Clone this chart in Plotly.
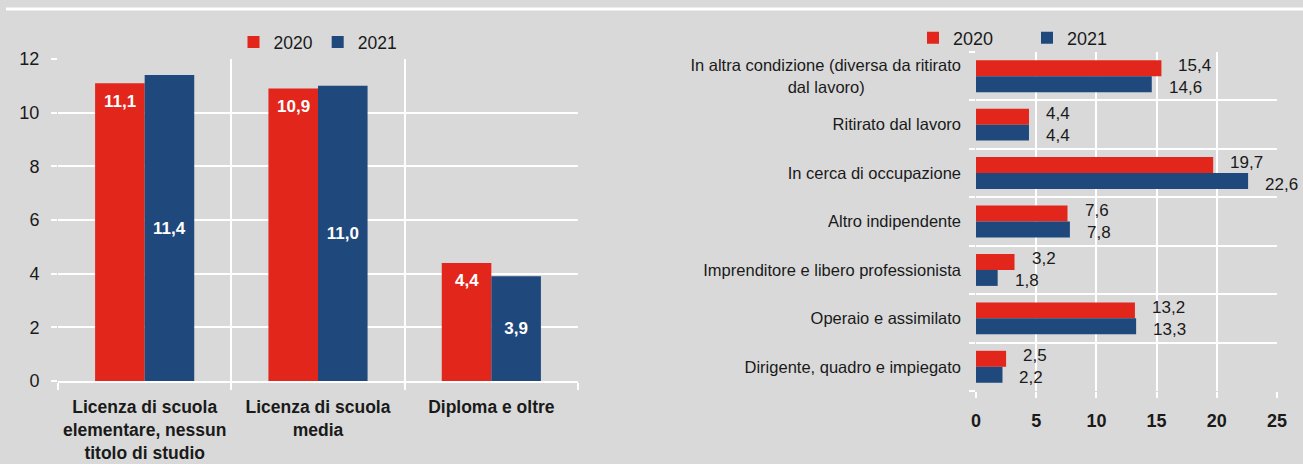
import plotly.graph_objects as go

# ---- data ----
edu_categories = [
    "Licenza di scuola<br>elementare, nessun<br>titolo di studio",
    "Licenza di scuola<br>media",
    "Diploma e oltre",
]
edu_2020 = [11.1, 10.9, 4.4]
edu_2021 = [11.4, 11.0, 3.9]

job_categories = [
    "Dirigente, quadro e impiegato",
    "Operaio e assimilato",
    "Imprenditore e libero professionista",
    "Altro indipendente",
    "In cerca di occupazione",
    "Ritirato dal lavoro",
    "In altra condizione (diversa da ritirato<br>dal lavoro)" + "\u00a0" * 21,
]
job_2020 = [2.5, 13.2, 3.2, 7.6, 19.7, 4.4, 15.4]
job_2021 = [2.2, 13.3, 1.8, 7.8, 22.6, 4.4, 14.6]

years = ["2020", "2021"]

RED = "#e2261b"
BLUE = "#1f497d"
BG = "#d9d9d9"
TXT = "#1a1a1a"
FONT = "Liberation Sans, Arial, sans-serif"


def fmt(v):
    return f"{v:.1f}".replace(".", ",")


W, H = 1303, 464

fig = go.Figure()

# ---- left chart ----
bw_left = 0.286
fig.add_trace(go.Bar(
    x=edu_categories, y=edu_2020, name=years[0], marker_color=RED,
    marker_line_width=0, width=bw_left, offset=-bw_left,
    xaxis="x", yaxis="y", legend="legend",
))
fig.add_trace(go.Bar(
    x=edu_categories, y=edu_2021, name=years[1], marker_color=BLUE,
    marker_line_width=0, width=bw_left, offset=0,
    text=[fmt(v) for v in edu_2021], textposition="inside",
    insidetextanchor="middle", textangle=0, constraintext="none",
    textfont=dict(family=FONT, size=17, color="white", weight="bold"),
    xaxis="x", yaxis="y", legend="legend", cliponaxis=False,
))

annotations = []
for i, v in enumerate(edu_2020):
    annotations.append(dict(
        x=i - bw_left / 2, y=v, xref="x", yref="y",
        text=fmt(v), showarrow=False, yanchor="middle", xanchor="center",
        yshift=-18,
        font=dict(family=FONT, size=17, color="white", weight="bold"),
    ))

# ---- right chart ----
bw_right = 0.33
fig.add_trace(go.Bar(
    y=job_categories, x=job_2020, name=years[0], orientation="h",
    marker_color=RED, marker_line_width=0, width=bw_right, offset=0,
    xaxis="x2", yaxis="y2", legend="legend2",
))
fig.add_trace(go.Bar(
    y=job_categories, x=job_2021, name=years[1], orientation="h",
    marker_color=BLUE, marker_line_width=0, width=bw_right, offset=-bw_right,
    xaxis="x2", yaxis="y2", legend="legend2",
))

for i, (a, b) in enumerate(zip(job_2020, job_2021)):
    annotations.append(dict(
        x=a, y=i + bw_right / 2, xref="x2", yref="y2",
        text=fmt(a), showarrow=False, xanchor="left", yanchor="middle",
        xshift=15, yshift=3,
        font=dict(family=FONT, size=17, color=TXT),
    ))
    annotations.append(dict(
        x=b, y=i - bw_right / 2, xref="x2", yref="y2",
        text=fmt(b), showarrow=False, xanchor="left", yanchor="middle",
        xshift=15, yshift=-3,
        font=dict(family=FONT, size=17, color=TXT),
    ))

fig.update_layout(
    width=W, height=H, autosize=False,
    paper_bgcolor=BG, plot_bgcolor=BG,
    margin=dict(l=0, r=0, t=0, b=0, pad=0, autoexpand=False),
    barmode="overlay",
    font=dict(family=FONT, size=17, color=TXT),
    xaxis=dict(
        domain=[58 / W, 578 / W], type="category", tickson="boundaries",
        showgrid=True, gridcolor="white", gridwidth=2,
        ticks="outside", ticklen=7, tickcolor="white", tickwidth=2,
        showline=True, linecolor="white", linewidth=2,
        tickangle=0, automargin=False,
        tickfont=dict(family=FONT, size=17.5, color=TXT, weight="bold"),
        ticklabelstandoff=9, fixedrange=True,
    ),
    yaxis=dict(
        domain=[1 - 381 / H, 1 - 59 / H], range=[0, 12], dtick=2,
        showgrid=True, gridcolor="white", gridwidth=2, zeroline=False,
        ticks="outside", ticklen=6, tickcolor="white", tickwidth=2,
        automargin=False,
        tickfont=dict(family=FONT, size=18, color=TXT),
        ticklabelstandoff=8, fixedrange=True,
    ),
    xaxis2=dict(
        domain=[976 / W, 1277 / W], range=[0, 25], dtick=5,
        showgrid=True, gridcolor="white", gridwidth=2, zeroline=False,
        ticks="outside", ticklen=6, tickcolor="white", tickwidth=2,
        automargin=False,
        tickfont=dict(family=FONT, size=18, color=TXT, weight="bold"),
        ticklabelstandoff=7, anchor="y2", fixedrange=True,
    ),
    yaxis2=dict(
        domain=[1 - 391 / H, 1 - 52 / H], type="category", tickson="boundaries",
        showgrid=True, gridcolor="white", gridwidth=2,
        ticks="outside", ticklen=6, tickcolor="white", tickwidth=2,
        automargin=False,
        tickfont=dict(family=FONT, size=16.5, color=TXT),
        ticklabelstandoff=14, anchor="x2", fixedrange=True,
    ),
    legend=dict(
        orientation="h", x=318 / W, xanchor="center", y=1 - 42 / H, yanchor="middle",
        bgcolor="rgba(0,0,0,0)", font=dict(family=FONT, size=17.5, color=TXT),
        itemwidth=30,
    ),
    legend2=dict(
        orientation="h", x=913 / W, xanchor="left", y=1 - 38 / H, yanchor="middle",
        bgcolor="rgba(0,0,0,0)", font=dict(family=FONT, size=18, color=TXT),
        itemwidth=30, entrywidth=69,
    ),
    annotations=annotations,
    shapes=[dict(
        type="line", xref="paper", yref="paper",
        x0=6 / W, x1=1, y0=1 - 9 / H, y1=1 - 9 / H,
        line=dict(color="white", width=3),
    )],
    showlegend=True,
)

fig.write_html(
    "out.html",
    config={"responsive": False, "displayModeBar": False},
    post_script="document.body.style.margin='0';document.body.style.padding='0';",
)
